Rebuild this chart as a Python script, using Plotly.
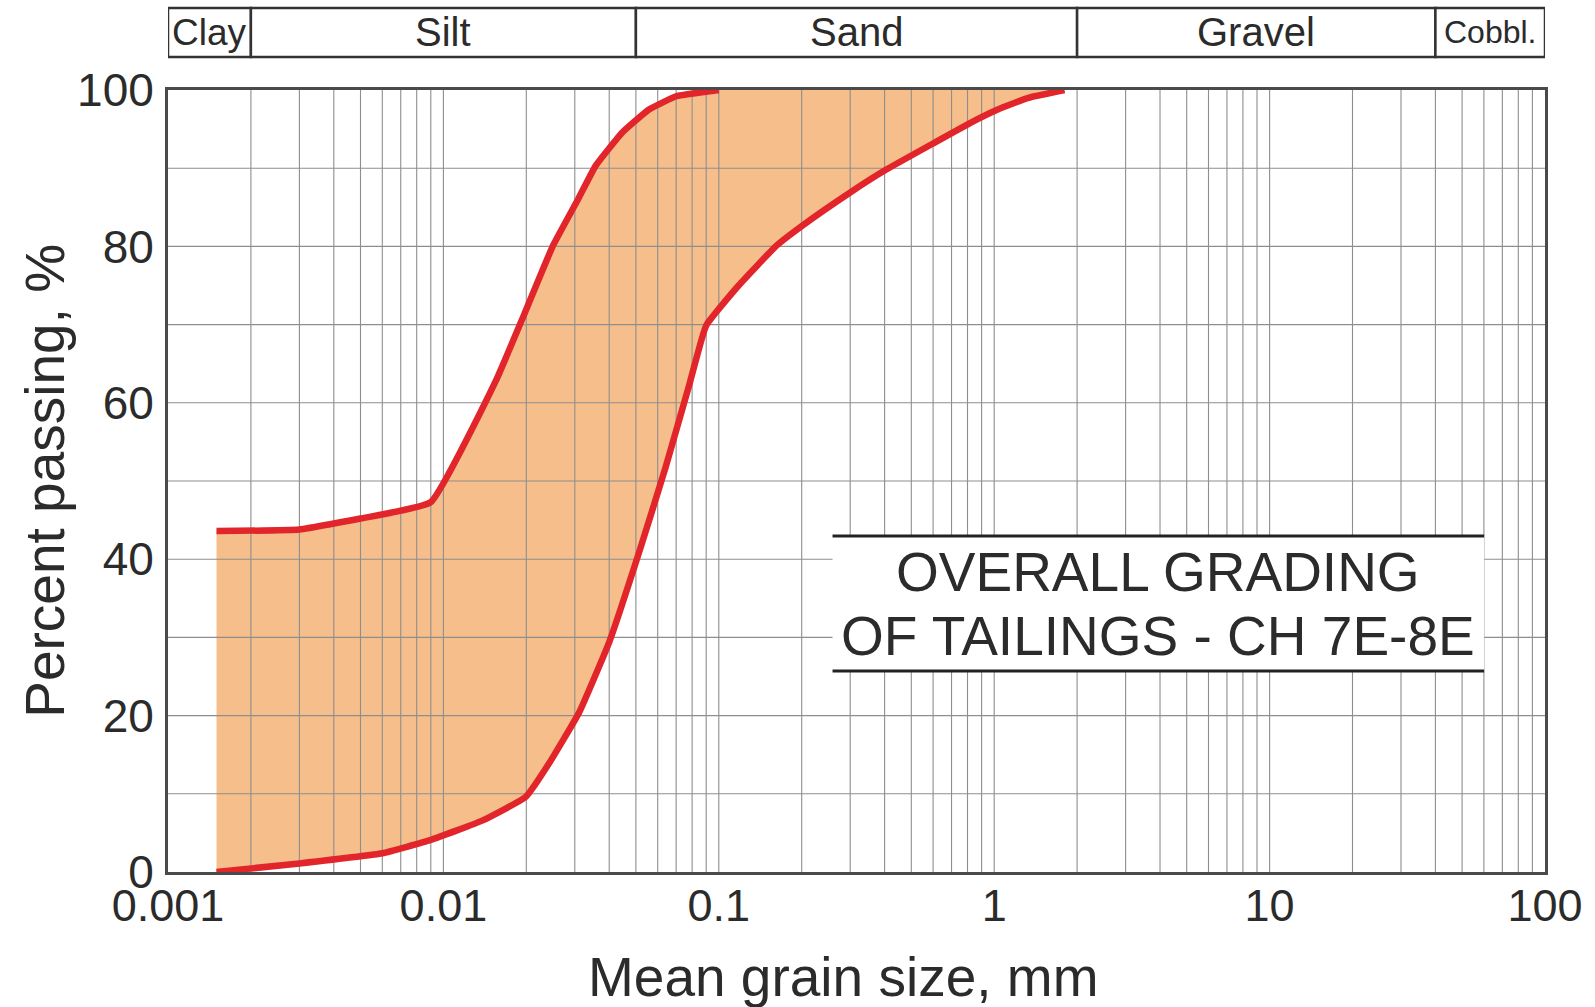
import numpy as np
import plotly.graph_objects as go

# ---- data ----
# finer boundary of the grading envelope (upper/left curve)
fine_x = [0.0015, 0.003, 0.005, 0.009, 0.0155, 0.0197, 0.025, 0.0308, 0.0357, 0.0447, 0.0558, 0.07, 0.1]
fine_y = [43.6, 43.8, 45.2, 47.3, 62.8, 71.4, 80.1, 86.0, 90.3, 94.6, 97.5, 99.2, 100]
# coarser boundary of the grading envelope (lower/right curve)
coarse_x = [0.0015, 0.003, 0.006, 0.009, 0.0139, 0.0199, 0.0242, 0.0311, 0.0401, 0.0517, 0.0639,
            0.0777, 0.09, 0.118, 0.162, 0.2, 0.3, 0.4, 0.61, 0.82, 1.03, 1.33, 1.8]
coarse_y = [0, 1.1, 2.4, 4.1, 6.6, 9.6, 13.9, 20.4, 29.5, 41.2, 51.6,
            62.0, 69.9, 75.0, 80.1, 82.6, 86.9, 89.7, 93.3, 95.8, 97.5, 99.0, 100]

# soil classes band
class_names = ["Clay", "Silt", "Sand", "Gravel", "Cobbl."]
class_bounds = [0.001, 0.002, 0.05, 2, 40, 100]

x_tickvals = [0.001, 0.01, 0.1, 1, 10, 100]
x_ticktext = ["0.001", "0.01", "0.1", "1", "10", "100"]
y_tickvals = [0, 20, 40, 60, 80, 100]
y_grid = [10, 20, 30, 40, 50, 60, 70, 80, 90]
decades = [0.001, 0.01, 0.1, 1, 10]
multipliers = [1, 2, 3, 4, 5, 6, 7, 8, 9]

FONT = "Liberation Sans, Arial, sans-serif"
TXT = "#2b2b2b"
RED = "#E1252B"
FILL = "#F6BE8B"
GRID = "#8e8e8e"

fig = go.Figure()

# envelope fill
fig.add_trace(go.Scatter(
    x=fine_x + coarse_x[::-1], y=fine_y + coarse_y[::-1],
    fill="toself", fillcolor=FILL, line=dict(width=0), mode="lines",
    hoverinfo="skip", showlegend=False))

# grid lines drawn over the fill
gx, gy = [], []
for d in decades:
    for m in multipliers:
        v = d * m
        if v <= decades[0]:
            continue
        gx += [v, v, None]
        gy += [0, 100, None]
for h in y_grid:
    gx += [class_bounds[0], class_bounds[-1], None]
    gy += [h, h, None]
fig.add_trace(go.Scatter(x=gx, y=gy, mode="lines", line=dict(color=GRID, width=1.1),
                         hoverinfo="skip", showlegend=False))

# boundary curves
fig.add_trace(go.Scatter(x=fine_x, y=fine_y, mode="lines",
                         line=dict(color=RED, width=6.5, shape="spline", smoothing=0.35),
                         showlegend=False))
fig.add_trace(go.Scatter(x=coarse_x, y=coarse_y, mode="lines",
                         line=dict(color=RED, width=6.5, shape="spline", smoothing=0.35),
                         showlegend=False))

shapes = []
annotations = []

# class band above the plot
band_y0, band_y1 = 1.0422, 1.1049
band_sizes = {"Clay": 37, "Cobbl.": 32}
for i, name in enumerate(class_names):
    a, b = class_bounds[i], class_bounds[i + 1]
    shapes.append(dict(type="rect", xref="x", yref="paper", x0=a, x1=b, y0=band_y0, y1=band_y1,
                       line=dict(color="#333333", width=2.5), fillcolor="white", layer="above"))
    annotations.append(dict(
        x=float(np.log10(np.sqrt(a * b))), y=(band_y0 + band_y1) / 2, xref="x", yref="paper",
        text=name, showarrow=False, xanchor="center", yanchor="middle",
        font=dict(family=FONT, size=band_sizes.get(name, 40), color=TXT)))

# label box
bx0, bx1, by0, by1 = 0.4826, 0.9558, 0.257, 0.4297
shapes.append(dict(type="rect", xref="paper", yref="paper", x0=bx0, x1=bx1, y0=by0, y1=by1,
                   line=dict(width=0), fillcolor="white", layer="above"))
for yy in (by0, by1):
    shapes.append(dict(type="line", xref="paper", yref="paper", x0=bx0, x1=bx1, y0=yy, y1=yy,
                       line=dict(color="#222222", width=3), layer="above"))
annotations.append(dict(x=0.7193, y=0.3836, xref="paper", yref="paper", text="OVERALL GRADING",
                        showarrow=False, xanchor="center", yanchor="middle",
                        font=dict(family=FONT, size=55, color=TXT)))
annotations.append(dict(x=0.7193, y=0.3018, xref="paper", yref="paper", text="OF TAILINGS - CH 7E-8E",
                        showarrow=False, xanchor="center", yanchor="middle",
                        font=dict(family=FONT, size=55, color=TXT)))

# axis titles
annotations.append(dict(x=0.49, y=-0.134, xref="paper", yref="paper", text="Mean grain size, mm",
                        showarrow=False, xanchor="center", yanchor="middle",
                        font=dict(family=FONT, size=55, color=TXT)))
annotations.append(dict(x=-0.0895, y=0.5, xref="paper", yref="paper", text="Percent passing, %",
                        showarrow=False, xanchor="center", yanchor="middle", textangle=-90,
                        font=dict(family=FONT, size=55, color=TXT)))

fig.update_layout(
    width=1595, height=1007,
    margin=dict(l=168, r=47, t=90, b=135),
    paper_bgcolor="white", plot_bgcolor="white",
    shapes=shapes, annotations=annotations,
    font=dict(family=FONT, color=TXT),
    xaxis=dict(type="log", range=[-3, 2], tickvals=x_tickvals, ticktext=x_ticktext,
               showgrid=False, zeroline=False, showline=True, mirror=True,
               linecolor="#4a4a4a", linewidth=3, ticks="", ticklabelstandoff=-8,
               tickfont=dict(family=FONT, size=45, color=TXT)),
    yaxis=dict(range=[0, 100], tickvals=y_tickvals, showgrid=False, zeroline=False,
               showline=True, mirror=True, linecolor="#4a4a4a", linewidth=3, ticks="",
               ticklabelstandoff=2, tickfont=dict(family=FONT, size=46, color=TXT)),
)

fig.write_html("out.html")
